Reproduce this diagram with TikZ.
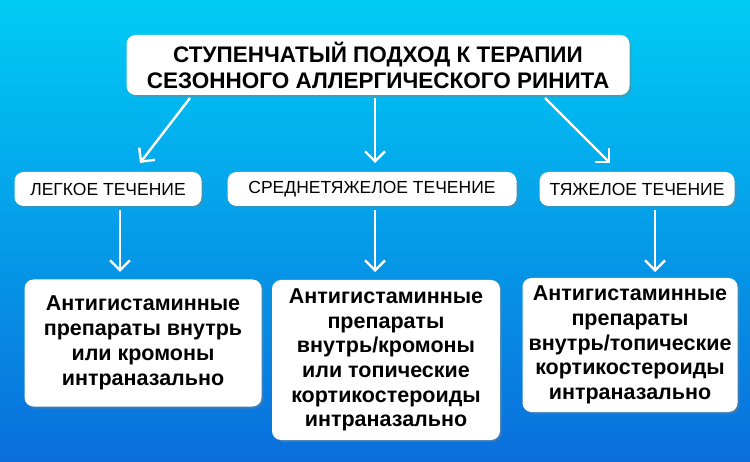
\documentclass[tikz,border=0pt]{standalone}
\usepackage{fontspec}
\setmainfont{Liberation Sans}
\usetikzlibrary{arrows.meta,shadows}
\begin{document}
\begin{tikzpicture}[x=1pt,y=-1pt,
 box/.style={draw=none,fill=white,rounded corners=9pt,drop shadow={shadow xshift=2pt,shadow yshift=-2pt,opacity=0.4},align=center,inner sep=0pt},
 arr/.style={draw=white,line width=2.4pt,-{Straight Barb[length=10pt,width=20pt,line width=2.4pt]}}]
\shade[top color={rgb,255:red,0;green,204;blue,245},bottom color={rgb,255:red,10;green,110;blue,220}] (0,0) rectangle (750,462);
\useasboundingbox (0,0) rectangle (750,462);
\node[box,minimum width=503pt,minimum height=60pt,font=\bfseries\fontsize{22.5}{26}\selectfont] (t) at (378,65) {СТУПЕНЧАТЫЙ ПОДХОД К ТЕРАПИИ\\СЕЗОННОГО АЛЛЕРГИЧЕСКОГО РИНИТА};
\node[box,minimum width=187pt,minimum height=34pt,font=\fontsize{17.5}{19}\selectfont] (l1) at (108,189) {ЛЕГКОЕ ТЕЧЕНИЕ};
\node[box,minimum width=289pt,minimum height=34pt,font=\fontsize{17.5}{19}\selectfont] (l2) at (372,189) {СРЕДНЕТЯЖЕЛОЕ ТЕЧЕНИЕ};
\node[box,minimum width=195pt,minimum height=34pt,font=\fontsize{17.5}{19}\selectfont] (l3) at (637,189) {ТЯЖЕЛОЕ ТЕЧЕНИЕ};
\node[box,minimum width=237pt,minimum height=127pt,font=\bfseries\fontsize{21.5}{25}\selectfont] (b1) at (143,343) {Антигистаминные\\препараты внутрь\\или кромоны\\интраназально};
\node[box,minimum width=228pt,minimum height=160pt,font=\bfseries\fontsize{21.5}{24.6}\selectfont] (b2) at (386,360) {Антигистаминные\\препараты\\внутрь/кромоны\\или топические\\кортикостероиды\\интраназально};
\node[box,minimum width=215pt,minimum height=134pt,font=\bfseries\fontsize{21.5}{24.6}\selectfont] (b3) at (630,345) {Антигистаминные\\препараты\\внутрь/топические\\кортикостероиды\\интраназально};
\coordinate (a1) at (190,98); \coordinate (e1) at (140,163);
\coordinate (a2) at (375,98); \coordinate (e2) at (375,163);
\coordinate (a3) at (545,98); \coordinate (e3) at (610,163);
\draw[arr] (a1) -- (e1);
\draw[arr] (a2) -- (e2);
\draw[arr] (a3) -- (e3);
\draw[arr] (l1.south -| 120,0) ++(0,4) -- (120,272);
\draw[arr] (375,210) -- (375,272);
\draw[arr] (655,210) -- (655,272);
\end{tikzpicture}
\end{document}
